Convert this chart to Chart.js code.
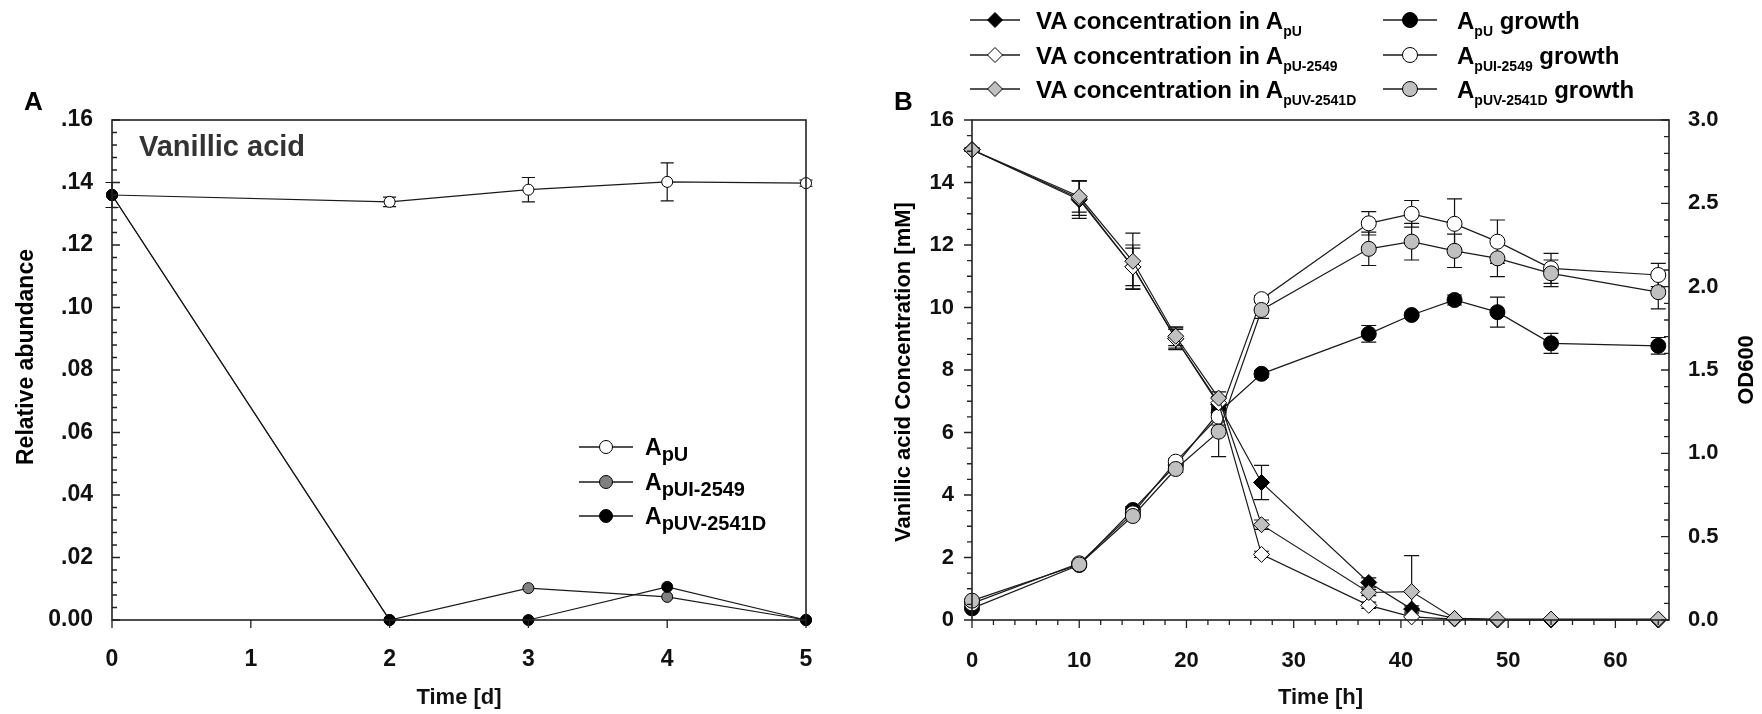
<!DOCTYPE html>
<html><head><meta charset="utf-8">
<script src="https://cdn.jsdelivr.net/npm/chart.js@4.4.0/dist/chart.umd.min.js"></script>
<style>
html,body{margin:0;padding:0;background:#fff;}
#wrap{position:relative;width:1762px;height:714px;background:#fff;overflow:hidden;}
canvas{position:absolute;top:0;}
#cA{left:0;}
#cB{left:760px;}
#ov{position:absolute;left:0;top:0;}
#ov text{font-family:'Liberation Sans',Arial,sans-serif;font-weight:bold;white-space:pre;}
</style></head><body>
<div id="wrap">
<canvas id="cA" width="860" height="714"></canvas>
<canvas id="cB" width="1002" height="714"></canvas>
<svg id="ov" width="1762" height="714" xmlns="http://www.w3.org/2000/svg"></svg>
</div>
<script>
// ---------------- Panel A data ----------------
const timeA = [0, 2, 3, 4, 5];
const apU_A = [0.136, 0.1338, 0.1377, 0.1402, 0.1398];
const apU_A_err = [0.004, 0.0015, 0.0039, 0.0061, 0.0010];
const apUI2549_A = [0.136, 0, 0.0102, 0.0074, 0];
const apUV2541D_A = [0.136, 0, 0, 0.0106, 0];
const ticksAx = [0, 1, 2, 3, 4, 5];
const ticksAy = [0, 0.02, 0.04, 0.06, 0.08, 0.10, 0.12, 0.14, 0.16];
const namesA = [['A', 'pU'], ['A', 'pUI-2549'], ['A', 'pUV-2541D']];

// ---------------- Panel B data ----------------
const timeB = [0, 10, 15, 19, 23, 27, 37, 41, 45, 49, 54, 64];
const vaApU = [15.05, 13.45, 11.3, 9.0, 6.9, 4.4, 1.2, 0.35, 0.05, 0, 0, 0];
const vaApU_err = [0.05, 0.6, 0.6, 0.3, 0.2, 0.55, 0.15, 0.1, 0, 0, 0, 0];
const vaApU2549 = [15.05, 13.5, 11.3, 9.0, 6.95, 2.1, 0.47, 0.1, 0.03, 0, 0, 0];
const vaApU2549_err = [0.05, 0.55, 0.7, 0.35, 0.2, 0.1, 0.1, 0.1, 0, 0, 0, 0];
const vaApUV2541D = [15.05, 13.55, 11.48, 9.08, 7.1, 3.05, 0.88, 0.91, 0.05, 0.03, 0.03, 0.03];
const vaApUV2541D_err = [0.05, 0.5, 0.9, 0.3, 0.2, 0.15, 0.1, 1.15, 0, 0, 0, 0];
const odApU = [0.07, 0.33, 0.66, 0.93, 1.245, 1.477, 1.717, 1.83, 1.92, 1.847, 1.66, 1.645];
const odApU_err = [0.01, 0.01, 0.02, 0.01, 0.03, 0.02, 0.05, 0.01, 0.03, 0.09, 0.06, 0.05];
const odApUI2549 = [0.1, 0.34, 0.64, 0.95, 1.22, 1.925, 2.38, 2.437, 2.377, 2.27, 2.11, 2.07];
const odApUI2549_err = [0.01, 0.01, 0.01, 0.02, 0.05, 0.02, 0.07, 0.08, 0.15, 0.13, 0.09, 0.07];
const odApUV2541D = [0.116, 0.333, 0.624, 0.906, 1.13, 1.86, 2.227, 2.27, 2.215, 2.17, 2.08, 1.967];
const odApUV2541D_err = [0.01, 0.01, 0.01, 0.02, 0.15, 0.05, 0.1, 0.11, 0.1, 0.11, 0.08, 0.1];
const ticksBx = [0, 10, 20, 30, 40, 50, 60];
const ticksBy = [0, 2, 4, 6, 8, 10, 12, 14, 16];
const ticksBy1 = [0, 0.5, 1.0, 1.5, 2.0, 2.5, 3.0];
const namesBva = [['VA concentration in A', 'pU'], ['VA concentration in A', 'pU-2549'], ['VA concentration in A', 'pUV-2541D']];
const namesBod = [['A', 'pU', ' growth'], ['A', 'pUI-2549', ' growth'], ['A', 'pUV-2541D', ' growth']];

// ---------------- styles ----------------
const FAM = "'Liberation Sans', Arial, sans-serif";
const tickFontA = {family: FAM, size: 23, weight: 'bold'};
const tickFontB = {family: FAM, size: 22, weight: 'bold'};
const titleFont = {family: FAM, size: 22, weight: 'bold'};
const INK = '#111';
const GRAY_A = '#808080';
const GRAY_B = '#c0c0c0';

const pts = (xs, ys) => xs.map((x, i) => ({x: x, y: ys[i]}));

function minorsBetween(majors, n) {
  const out = [];
  for (let i = 0; i < majors.length - 1; i++) {
    const a = majors[i], b = majors[i + 1];
    for (let k = 1; k < n; k++) out.push(a + (b - a) * k / n);
  }
  return out;
}

const errPlugin = {
  id: 'errbars',
  beforeDatasetsDraw(chart, args, opts) {
    const ctx = chart.ctx, a = chart.chartArea, cap = opts.cap || 7;
    ctx.save();
    ctx.beginPath();
    ctx.rect(a.left - 10, a.top - 1, a.right - a.left + 20, a.bottom - a.top + 1);
    ctx.clip();
    ctx.strokeStyle = '#111';
    ctx.lineWidth = 1.2;
    chart.data.datasets.forEach(ds => {
      if (!ds.errors) return;
      const xs = chart.scales[ds.xAxisID || 'x'], ys = chart.scales[ds.yAxisID || 'y'];
      ds.data.forEach((p, i) => {
        const e = ds.errors[i];
        if (!e) return;
        const px = xs.getPixelForValue(p.x);
        const y1 = ys.getPixelForValue(p.y + e), y2 = ys.getPixelForValue(p.y - e);
        ctx.beginPath();
        ctx.moveTo(px, y1); ctx.lineTo(px, y2);
        ctx.moveTo(px - cap, y1); ctx.lineTo(px + cap, y1);
        ctx.moveTo(px - cap, y2); ctx.lineTo(px + cap, y2);
        ctx.stroke();
      });
    });
    ctx.restore();
  }
};

const axesPlugin = {
  id: 'axesdeco',
  afterDatasetsDraw(chart, args, opts) {
    const ctx = chart.ctx, a = chart.chartArea;
    ctx.save();
    ctx.strokeStyle = '#222';
    ctx.lineWidth = 1.6;
    ctx.strokeRect(a.left, a.top, a.right - a.left, a.bottom - a.top);
    ctx.lineWidth = 1.3;
    (opts.ticks || []).forEach(t => {
      const sc = chart.scales[t.axis];
      ctx.beginPath();
      t.values.forEach(v => {
        const p = sc.getPixelForValue(v);
        if (t.side === 'bottom') { ctx.moveTo(p, a.bottom); ctx.lineTo(p, a.bottom + t.dir * t.len); }
        else if (t.side === 'left') { ctx.moveTo(a.left, p); ctx.lineTo(a.left + t.dir * t.len, p); }
        else { ctx.moveTo(a.right, p); ctx.lineTo(a.right + t.dir * t.len, p); }
      });
      ctx.stroke();
    });
    ctx.restore();
  }
};

function lineDs(label, data, fill, style, radius, order, errors, yAxisID) {
  return {
    label: label, data: data, yAxisID: yAxisID || 'y', order: order,
    borderColor: '#1a1a1a', borderWidth: 1.2,
    pointStyle: style, pointRadius: radius, pointHoverRadius: radius,
    pointBackgroundColor: fill, pointBorderColor: '#000', pointBorderWidth: 1,
    backgroundColor: fill, fill: false, tension: 0, clip: false, errors: errors
  };
}

// ---------------- Chart A ----------------
new Chart(document.getElementById('cA'), {
  type: 'line',
  data: {
    datasets: [
      lineDs('ApU', pts(timeA, apU_A), '#ffffff', 'circle', 5.5, 2, apU_A_err),
      lineDs('ApUI-2549', pts(timeA, apUI2549_A), GRAY_A, 'circle', 5.5, 1, null),
      lineDs('ApUV-2541D', pts(timeA, apUV2541D_A), '#000000', 'circle', 5.5, 0, null)
    ]
  },
  options: {
    responsive: false, animation: false, devicePixelRatio: 1,
    layout: {padding: {left: 0, right: 54, top: 120, bottom: 0}},
    plugins: {
      legend: {display: false}, tooltip: {enabled: false},
      errbars: {cap: 6.5},
      axesdeco: {ticks: [
        {axis: 'x', side: 'bottom', dir: 1, len: 8, values: ticksAx},
        {axis: 'y', side: 'left', dir: 1, len: 8, values: ticksAy},
        {axis: 'y', side: 'left', dir: 1, len: 5, values: minorsBetween(ticksAy, 5)}
      ]}
    },
    scales: {
      x: {
        type: 'linear', min: 0, max: 5,
        afterBuildTicks: s => { s.ticks = ticksAx.map(v => ({value: v})); },
        afterFit: s => { s.height = 94; },
        grid: {display: false}, border: {display: false},
        ticks: {font: tickFontA, color: INK, padding: 18, maxRotation: 0, autoSkip: false},
        title: {display: true, text: 'Time [d]', font: titleFont, color: INK, padding: {top: 0, bottom: 3}}
      },
      y: {
        type: 'linear', min: 0, max: 0.16,
        afterBuildTicks: s => { s.ticks = ticksAy.map(v => ({value: v})); },
        afterFit: s => { s.width = 112; },
        grid: {display: false}, border: {display: false},
        ticks: {font: tickFontA, color: INK, padding: 11,
          callback: v => (Math.abs(v) < 1e-9 ? '0.00' : v.toFixed(2).replace(/^0/, ''))}
      }
    }
  },
  plugins: [errPlugin, axesPlugin]
});

// ---------------- Chart B ----------------
new Chart(document.getElementById('cB'), {
  type: 'line',
  data: {
    datasets: [
      lineDs('VA concentration in ApU', pts(timeB, vaApU), '#000000', 'rectRot', 8, 4, vaApU_err, 'y'),
      lineDs('VA concentration in ApU-2549', pts(timeB, vaApU2549), '#ffffff', 'rectRot', 8, 2, vaApU2549_err, 'y'),
      lineDs('VA concentration in ApUV-2541D', pts(timeB, vaApUV2541D), GRAY_B, 'rectRot', 8, 0, vaApUV2541D_err, 'y'),
      lineDs('ApU growth', pts(timeB, odApU), '#000000', 'circle', 7.5, 5, odApU_err, 'y1'),
      lineDs('ApUI-2549 growth', pts(timeB, odApUI2549), '#ffffff', 'circle', 7.5, 3, odApUI2549_err, 'y1'),
      lineDs('ApUV-2541D growth', pts(timeB, odApUV2541D), GRAY_B, 'circle', 7.5, 1, odApUV2541D_err, 'y1')
    ]
  },
  options: {
    responsive: false, animation: false, devicePixelRatio: 1,
    layout: {padding: {left: 0, right: 0, top: 120, bottom: 0}},
    plugins: {
      legend: {display: false}, tooltip: {enabled: false},
      errbars: {cap: 7.5},
      axesdeco: {ticks: [
        {axis: 'x', side: 'bottom', dir: 1, len: 8, values: ticksBx},
        {axis: 'x', side: 'bottom', dir: 1, len: 5, values: minorsBetween(ticksBx.concat([70]), 5).filter(v => v <= 65)},
        {axis: 'y', side: 'left', dir: -1, len: 8, values: ticksBy},
        {axis: 'y', side: 'left', dir: -1, len: 5, values: minorsBetween(ticksBy, 4)},
        {axis: 'y1', side: 'right', dir: -1, len: 8, values: ticksBy1},
        {axis: 'y1', side: 'right', dir: -1, len: 5, values: minorsBetween(ticksBy1, 5)}
      ]}
    },
    scales: {
      x: {
        type: 'linear', min: 0, max: 65,
        afterBuildTicks: s => { s.ticks = ticksBx.map(v => ({value: v})); },
        afterFit: s => { s.height = 94; },
        grid: {display: false}, border: {display: false},
        ticks: {font: tickFontB, color: INK, padding: 20, maxRotation: 0, autoSkip: false},
        title: {display: true, text: 'Time [h]', font: titleFont, color: INK, padding: {top: 0, bottom: 3}}
      },
      y: {
        type: 'linear', position: 'left', min: 0, max: 16,
        afterBuildTicks: s => { s.ticks = ticksBy.map(v => ({value: v})); },
        afterFit: s => { s.width = 212; },
        grid: {display: false}, border: {display: false},
        ticks: {font: tickFontB, color: INK, padding: 10}
      },
      y1: {
        type: 'linear', position: 'right', min: 0, max: 3,
        afterBuildTicks: s => { s.ticks = ticksBy1.map(v => ({value: v})); },
        afterFit: s => { s.width = 93; },
        grid: {display: false}, border: {display: false},
        ticks: {font: tickFontB, color: INK, padding: 11, callback: v => v.toFixed(1)}
      }
    }
  },
  plugins: [errPlugin, axesPlugin]
});

// ---------------- SVG overlay: labels, legends, y titles ----------------
const NS = 'http://www.w3.org/2000/svg';
const ov = document.getElementById('ov');
function el(tag, attrs, parent) {
  const e = document.createElementNS(NS, tag);
  for (const k in attrs) e.setAttribute(k, attrs[k]);
  (parent || ov).appendChild(e);
  return e;
}
function txt(x, y, size, str, extra) {
  const t = el('text', Object.assign({x: x, y: y, 'font-size': size, fill: '#000'}, extra || {}));
  t.textContent = str;
  return t;
}
function subTxt(x, y, size, subSize, dy, parts) {
  const t = el('text', {x: x, y: y, 'font-size': size, fill: '#000'});
  const a = el('tspan', {}, t); a.textContent = parts[0];
  const b = el('tspan', {'font-size': subSize, dy: dy}, t); b.textContent = parts[1];
  if (parts[2]) { const c = el('tspan', {'font-size': size, dy: -dy}, t); c.textContent = parts[2]; }
  return t;
}
function marker(cx, cy, style, r, fill) {
  if (style === 'circle') el('circle', {cx: cx, cy: cy, r: r, fill: fill, stroke: '#000', 'stroke-width': 1});
  else el('polygon', {points: [cx - r, cy, cx, cy - r, cx + r, cy, cx, cy + r].join(' '), fill: fill, stroke: '#000', 'stroke-width': 1});
}

// panel labels
txt(24, 110, 26, 'A');
txt(894, 110, 26, 'B');
txt(139, 156, 29, 'Vanillic acid', {fill: '#333'});

// legend A
const rowsA = [447, 482, 516];
const fillsA = ['#ffffff', GRAY_A, '#000000'];
namesA.forEach((n, i) => {
  const y = rowsA[i];
  el('line', {x1: 579, y1: y, x2: 633, y2: y, stroke: '#1a1a1a', 'stroke-width': 1.3});
  marker(606, y, 'circle', 6.5, fillsA[i]);
  subTxt(645, y + 8, 23, 20, 6, n);
});

// legend B
const rowsB = [20, 55, 89];
const fillsB = ['#000000', '#ffffff', GRAY_B];
namesBva.forEach((n, i) => {
  const y = rowsB[i];
  el('line', {x1: 970, y1: y, x2: 1020, y2: y, stroke: '#1a1a1a', 'stroke-width': 1.3});
  marker(995, y, 'diamond', 7.5, fillsB[i]);
  subTxt(1036, y + 8.5, 24, 14, 7, n);
});
namesBod.forEach((n, i) => {
  const y = rowsB[i];
  el('line', {x1: 1383, y1: y, x2: 1437, y2: y, stroke: '#1a1a1a', 'stroke-width': 1.3});
  marker(1410, y, 'circle', 7.5, fillsB[i]);
  subTxt(1457, y + 8.5, 24, 14, 7, n);
});

// rotated y-axis titles
txt(0, 0, 23, 'Relative abundance', {transform: 'translate(33,357) rotate(-90)', 'text-anchor': 'middle'});
txt(0, 0, 22, 'Vanillic acid Concentration [mM]', {transform: 'translate(910,372) rotate(-90)', 'text-anchor': 'middle'});
txt(0, 0, 22, 'OD600', {transform: 'translate(1753,370) rotate(-90)', 'text-anchor': 'middle'});
</script>
</body></html>
